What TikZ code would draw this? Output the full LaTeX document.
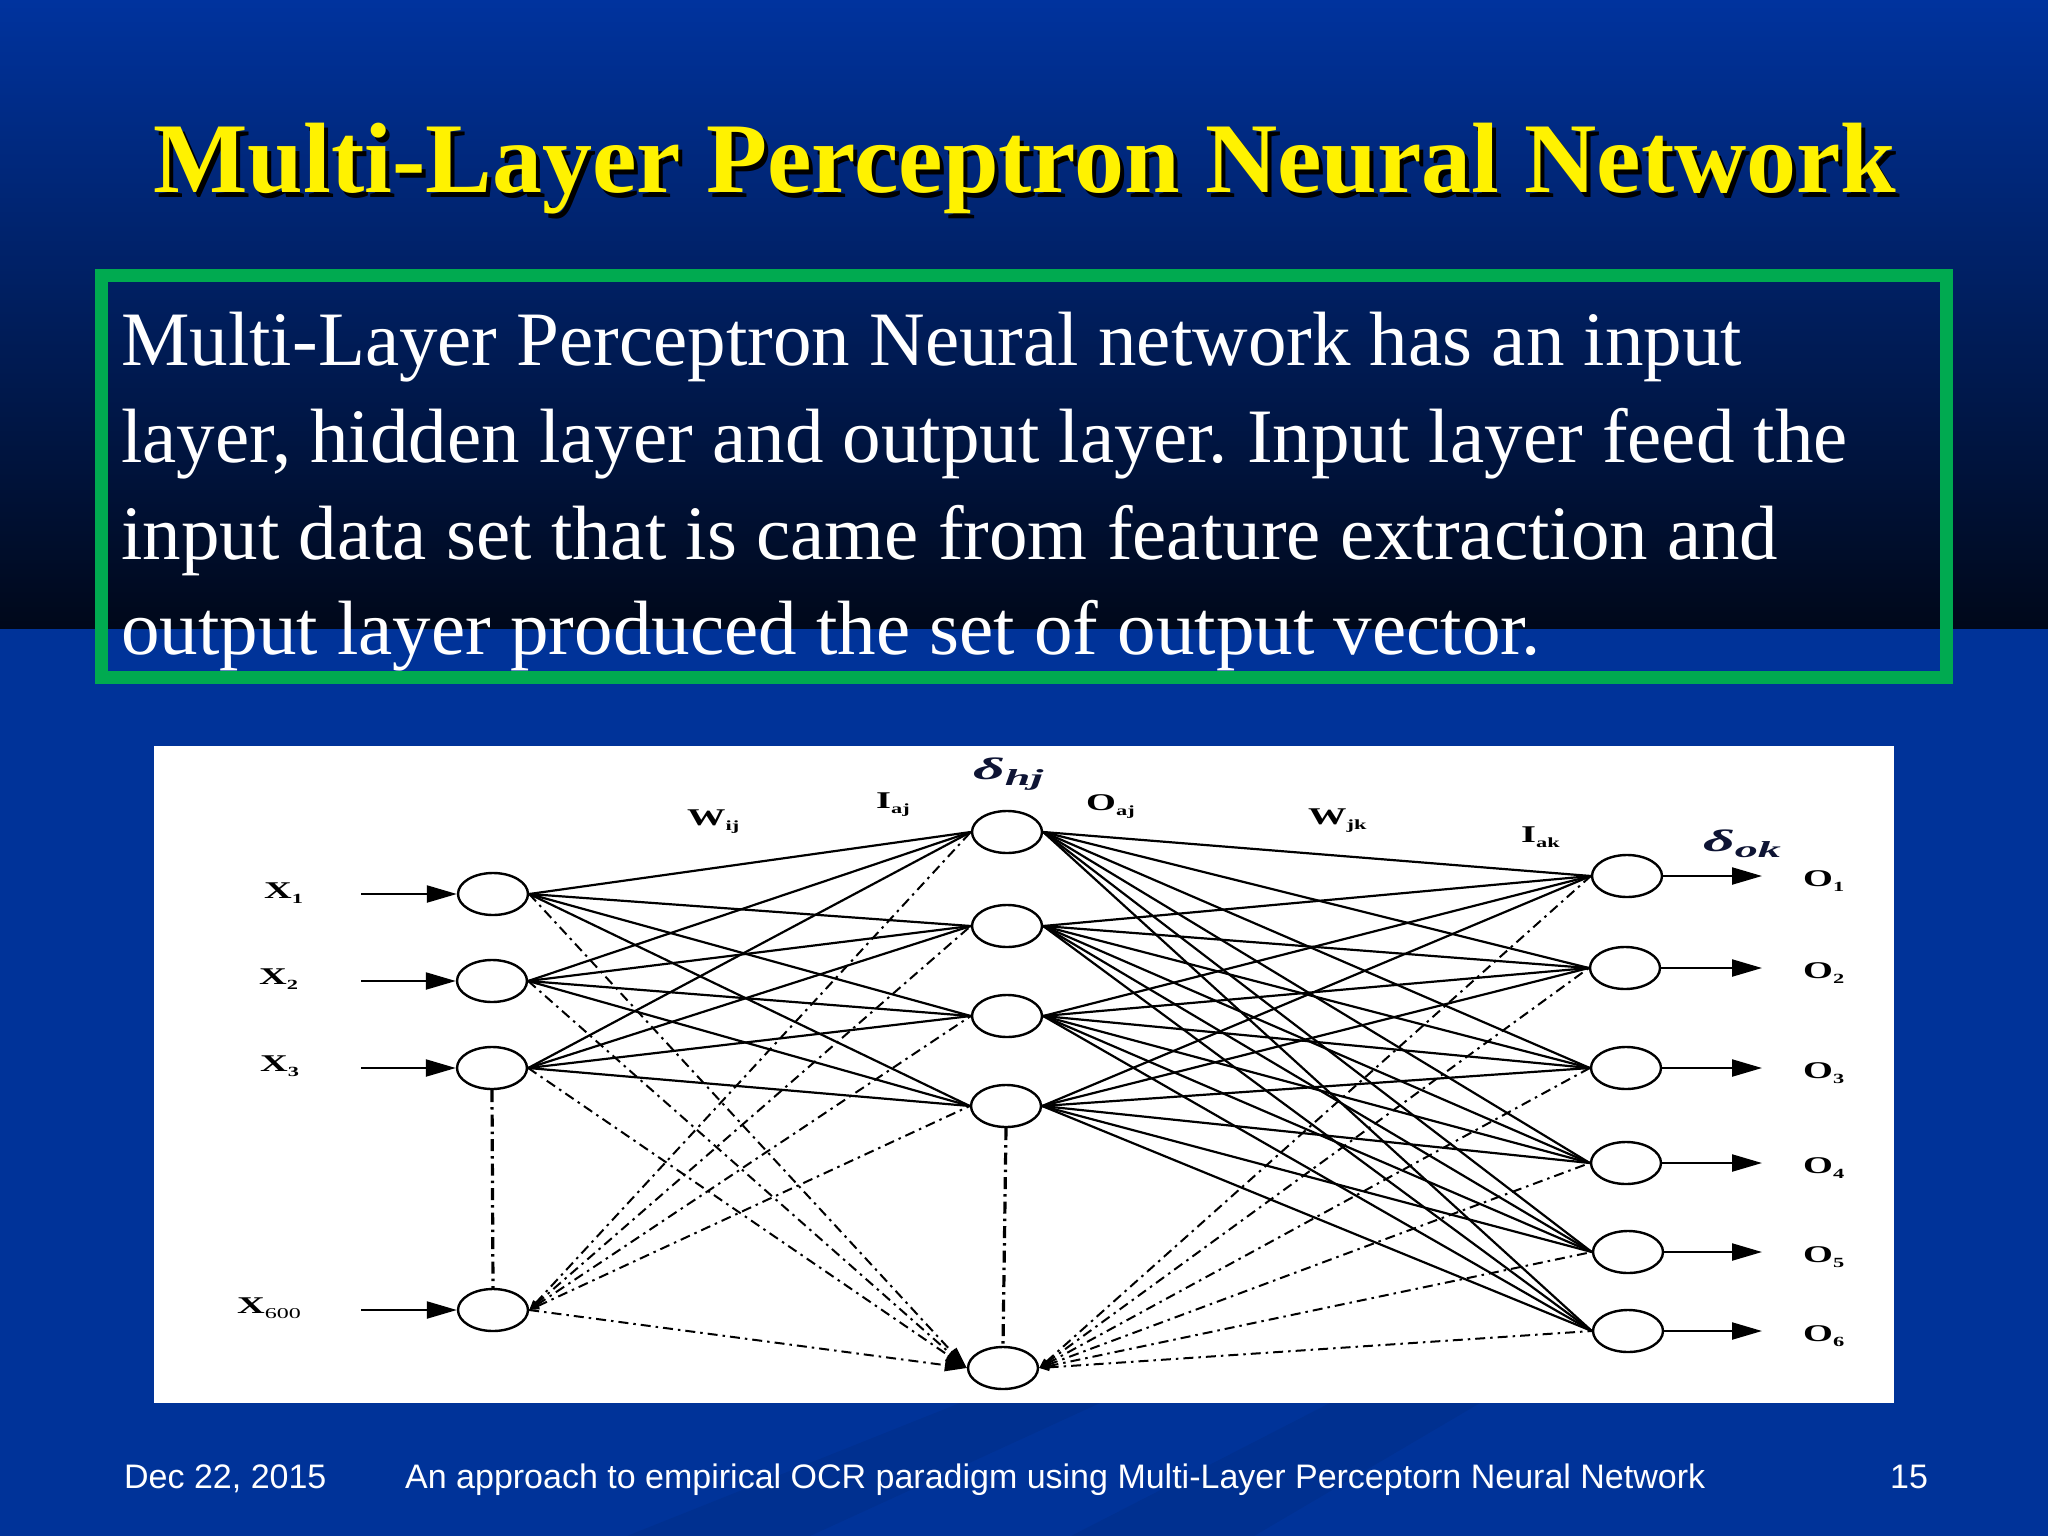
\documentclass[tikz,border=0pt]{standalone}
\usepackage{fontspec}
\usepackage{graphicx}
\setmainfont{Liberation Serif}
\newfontfamily\arialf{Liberation Sans}
\usetikzlibrary{arrows.meta,shapes.geometric}
\frenchspacing
\definecolor{bgblue}{RGB}{0,51,153}
\definecolor{bgtop}{RGB}{0,51,158}
\definecolor{bgbot}{RGB}{0,8,26}
\definecolor{boxgreen}{RGB}{0,170,80}
\definecolor{deltac}{RGB}{14,20,52}
\newcommand\mylab[2]{\scalebox{1.6}[1]{\fontsize{24}{24}\selectfont\bfseries #1\raisebox{-5pt}{\fontsize{14}{14}\selectfont #2}}}
\newcommand\dlab[2]{\scalebox{2.0}[1]{\color{deltac}\fontsize{31}{31}\selectfont\bfseries\itshape #1\raisebox{-6pt}{\fontsize{23}{23}\selectfont #2}}}
\begin{document}
\begin{tikzpicture}[x=1pt,y=-1pt,
  neuron/.style={draw=black, line width=2.4pt, ellipse, minimum width=70pt, minimum height=42pt, inner sep=0pt, fill=white},
  conn/.style={line width=2.2pt},
  dconn/.style={line width=2pt, dash pattern=on 10pt off 5pt on 2.5pt off 5pt},
  vconn/.style={line width=3.2pt, dash pattern=on 12pt off 5pt on 2.5pt off 5pt},
  inarrow/.style={line width=2.2pt, -{Triangle[length=30pt,width=17pt]}},
  lbl/.style={inner sep=0pt, anchor=base west, text=black},
  body/.style={inner sep=0pt, anchor=base west, text=white, font=\fontsize{77}{77}\selectfont},
  foot/.style={inner sep=0pt, anchor=base west, text=white, font=\arialf\fontsize{34}{34}\selectfont},
]
\useasboundingbox (0,0) rectangle (2048,1536);
% background
\fill[bgblue] (0,0) rectangle (2048,1536);
\shade[top color=bgtop, bottom color=bgbot] (0,0) rectangle (2048,628);
\fill[black, opacity=0.06] (627,1536) -- (810,1536) -- (1100,1403) -- (960,1403) -- cycle;
\fill[black, opacity=0.06] (1071,1536) -- (1254,1536) -- (1480,1403) -- (1330,1403) -- cycle;

% title
\node[anchor=base, inner sep=0pt, text=black, font=\fontsize{100}{100}\selectfont\bfseries] (tshadow) at (1029,197) {Multi-Layer Perceptron Neural Network};
\node[anchor=base, inner sep=0pt, text=yellow, font=\fontsize{100}{100}\selectfont\bfseries] (title) at (1025,193) {Multi-Layer Perceptron Neural Network};

% green box and text
\draw[boxgreen, line width=13pt] (101.5,275.5) rectangle (1946.5,677.5);
\node[body] (l1) at (121,365) {Multi-Layer Perceptron Neural network has an input};
\node[body] (l2) at (121,462) {layer, hidden layer and output layer. Input layer feed the};
\node[body] (l3) at (121,559) {input data set that is came from feature extraction and};
\node[body] (l4) at (121,654) {output layer produced the set of output vector.};

% diagram panel
\fill[white] (154,746) rectangle (1894,1403);

% neurons
\node[neuron] (x1) at (493,894) {};
\node[neuron] (x2) at (492,981) {};
\node[neuron] (x3) at (492,1068) {};
\node[neuron] (x600) at (493,1310) {};
\node[neuron] (h1) at (1007,832) {};
\node[neuron] (h2) at (1007,926) {};
\node[neuron] (h3) at (1007,1016) {};
\node[neuron] (h4) at (1006,1106) {};
\node[neuron] (h5) at (1003,1368) {};
\node[neuron] (o1) at (1627,876) {};
\node[neuron] (o2) at (1625,968) {};
\node[neuron] (o3) at (1626,1068) {};
\node[neuron] (o4) at (1626,1163) {};
\node[neuron] (o5) at (1628,1252) {};
\node[neuron] (o6) at (1628,1331) {};

% input / output arrows
\foreach \n/\y in {x1/894,x2/981,x3/1068,x600/1310}{
  \coordinate (a\n) at (361,\y);
  \draw[inarrow] (a\n) -- (\n.west);
}
\foreach \n/\y in {o1/876,o2/968,o3/1068,o4/1163,o5/1252,o6/1331}{
  \coordinate (b\n) at (1762,\y);
  \draw[inarrow] (\n.east) -- (b\n);
}

% input -> hidden
\foreach \i in {x1,x2,x3}{
  \foreach \j in {h1,h2,h3,h4}{
    \draw[conn] (\i.east) -- (\j.west);
  }
  \draw[dconn, -{Triangle[length=22pt,width=12pt]}] (\i.east) -- (h5.west);
}
\foreach \j in {h1,h2,h3,h4}{
  \draw[dconn, {Triangle[length=10pt,width=7pt]}-] (x600.east) -- (\j.west);
}
\draw[dconn, -{Triangle[length=22pt,width=12pt]}] (x600.east) -- (h5.west);

% hidden -> output
\foreach \i in {h1,h2,h3,h4}{
  \foreach \j in {o1,o2,o3,o4,o5,o6}{
    \draw[conn] (\i.east) -- (\j.west);
  }
}
\foreach \j in {o1,o2,o3,o4,o5,o6}{
  \draw[dconn, {Triangle[length=10pt,width=7pt]}-] (h5.east) -- (\j.west);
}

% vertical ellipsis lines
\draw[vconn] (x3.south) -- (x600.north);
\draw[vconn] (h4.south) -- (h5.north);

% labels
\node[lbl] (lx1) at (264,898) {\mylab{X}{1}};
\node[lbl] (lx2) at (259,984) {\mylab{X}{2}};
\node[lbl] (lx3) at (260,1071) {\mylab{X}{3}};
\node[lbl] (lx600) at (237,1313) {\scalebox{1.6}[1]{\fontsize{24}{24}\selectfont\bfseries X\raisebox{-5pt}{\fontsize{15}{15}\selectfont\mdseries 600}}};
\node[lbl] (lo1) at (1803,886) {\mylab{O}{1}};
\node[lbl] (lo2) at (1803,978) {\mylab{O}{2}};
\node[lbl] (lo3) at (1803,1078) {\mylab{O}{3}};
\node[lbl] (lo4) at (1803,1173) {\mylab{O}{4}};
\node[lbl] (lo5) at (1803,1262) {\mylab{O}{5}};
\node[lbl] (lo6) at (1803,1341) {\mylab{O}{6}};
\node[lbl] (lwij) at (687,825) {\mylab{W}{ij}};
\node[lbl] (liaj) at (876,808) {\mylab{I}{aj}};
\node[lbl] (loaj) at (1086,810) {\mylab{O}{aj}};
\node[lbl] (lwjk) at (1308,824) {\mylab{W}{jk}};
\node[lbl] (liak) at (1521,842) {\mylab{I}{ak}};
\node[lbl] (ldhj) at (973,779) {\dlab{δ}{hj}};
\node[lbl] (ldok) at (1703,851) {\dlab{δ}{ok}};

% footer
\node[foot] (fdate) at (124,1488) {Dec 22, 2015};
\node[foot] (ftitle) at (405,1488) {An approach to empirical OCR paradigm using Multi-Layer Perceptorn Neural Network};
\node[foot] (fpage) at (1890,1488) {15};
\end{tikzpicture}
\end{document}
